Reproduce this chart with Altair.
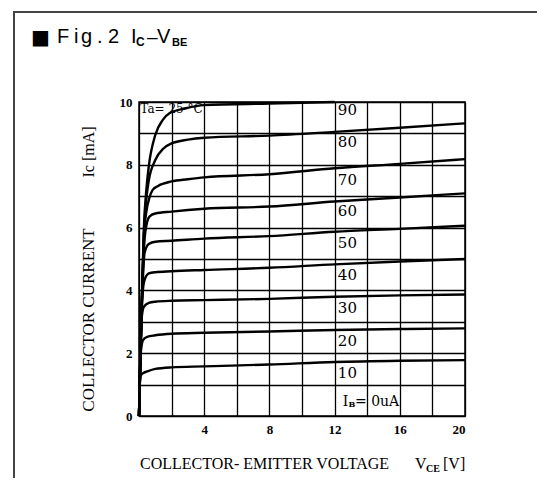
import altair as alt
import pandas as pd

# ---- data (VCE in V, IC in mA) ----
V10 = [0, 0.05, 0.1, 0.3, 0.5, 1, 2, 4, 8, 12, 16, 20]
I10 = [0, 1.0, 1.28, 1.38, 1.42, 1.5, 1.55, 1.58, 1.64, 1.72, 1.76, 1.78]
V20 = [0, 0.08, 0.15, 0.25, 0.5, 1, 2, 4, 8, 12, 16, 20]
I20 = [0, 1.8, 2.2, 2.42, 2.52, 2.57, 2.62, 2.65, 2.69, 2.74, 2.77, 2.79]
V30 = [0, 0.1, 0.18, 0.3, 0.6, 1, 2, 4, 8, 12, 16, 20]
I30 = [0, 2.2, 3.2, 3.48, 3.6, 3.64, 3.67, 3.69, 3.73, 3.80, 3.84, 3.87]
V40 = [0, 0.12, 0.22, 0.34, 0.6, 1, 2, 4, 8, 12, 16, 20]
I40 = [0, 2.6, 3.9, 4.33, 4.54, 4.58, 4.61, 4.65, 4.72, 4.83, 4.92, 5.0]
V50 = [0, 0.13, 0.25, 0.34, 0.6, 1, 2, 4, 8, 12, 16, 20]
I50 = [0, 2.8, 4.5, 5.19, 5.48, 5.55, 5.58, 5.65, 5.73, 5.87, 5.96, 6.06]
V60 = [0, 0.13, 0.27, 0.39, 0.64, 1, 2, 4, 8, 12, 16, 20]
I60 = [0, 2.9, 5.0, 5.87, 6.35, 6.45, 6.51, 6.6, 6.67, 6.83, 6.96, 7.09]
V70 = [0, 0.14, 0.3, 0.45, 0.64, 0.84, 1.15, 2, 3, 4, 8, 12, 16, 20]
I70 = [0, 3.0, 5.7, 6.5, 6.95, 7.2, 7.32, 7.47, 7.54, 7.6, 7.7, 7.89, 8.03, 8.18]
V80 = [0, 0.14, 0.3, 0.45, 0.6, 1, 1.5, 2, 3, 4, 8, 12, 16, 20]
I80 = [0, 3.0, 5.8, 6.9, 7.5, 8.15, 8.52, 8.68, 8.8, 8.86, 8.93, 9.05, 9.18, 9.32]
V90 = [0, 0.14, 0.3, 0.45, 0.6, 1, 1.46, 1.87, 2.88, 4, 8, 12]
I90 = [0, 3.0, 6.0, 7.2, 7.95, 8.95, 9.43, 9.64, 9.8, 9.9, 9.95, 10.0]

CURVES = {10: (V10, I10), 20: (V20, I20), 30: (V30, I30), 40: (V40, I40),
          50: (V50, I50), 60: (V60, I60), 70: (V70, I70), 80: (V80, I80),
          90: (V90, I90)}

LABEL_TEXT = ["90", "80", "70", "60", "50", "40", "30", "20", "10"]
LABEL_V = [12.2] * 9
LABEL_I = [9.75, 8.74, 7.52, 6.53, 5.5, 4.49, 3.43, 2.39, 1.36]

X_TICKS = list(range(0, 21, 2))
Y_TICKS = list(range(0, 11))

rows = []
for ib, (vs, cs) in CURVES.items():
    for v, c in zip(vs, cs):
        rows.append({"ib": ib, "v": v, "i": c})
df = pd.DataFrame(rows)
lab = pd.DataFrame({"t": LABEL_TEXT, "v": LABEL_V, "i": LABEL_I})

SERIF = "Liberation Serif"
SANS = "Liberation Sans"

xs = alt.Scale(domain=[0, 20], nice=False)
ys = alt.Scale(domain=[0, 10], nice=False)

X_AXIS = alt.Axis(values=X_TICKS, ticks=False, domain=False,
                  grid=True, gridColor="black", gridWidth=1.3, gridOpacity=1,
                  labelExpr="datum.value % 4 == 0 && datum.value > 0 ? datum.label : ''",
                  labelFont=SERIF, labelFontSize=13, labelFontWeight="bold",
                  labelColor="black", labelPadding=7)
Y_AXIS = alt.Axis(values=Y_TICKS, ticks=False, domain=False,
                  grid=True, gridColor="black", gridWidth=1.3, gridOpacity=1,
                  labelExpr="datum.value % 2 == 0 ? datum.label : ''",
                  labelFont=SERIF, labelFontSize=13, labelFontWeight="bold",
                  labelColor="black", labelPadding=7)


def xe():
    return alt.X("v:Q", scale=xs, title=None, axis=X_AXIS)


def ye():
    return alt.Y("i:Q", scale=ys, title=None, axis=Y_AXIS)


lines = alt.Chart(df).mark_line(color="black", strokeWidth=2.4,
                                interpolate="monotone").encode(
    x=xe(), y=ye(), detail="ib:N")

labels = alt.Chart(lab).mark_text(align="left", baseline="middle", font="DejaVu Serif",
                                  fontSize=15, color="black").encode(
    x=xe(), y=ye(), text="t:N")

ONE = alt.Data(values=[{}])


def txt_data(t, v, c, size=13, font="DejaVu Serif", weight="normal", baseline="middle"):
    return alt.Chart(alt.Data(values=[{"v": v, "i": c}])).mark_text(
        text=t, align="left", baseline=baseline, font=font, fontSize=size,
        fontWeight=weight, color="black").encode(x=xe(), y=ye())


def txt_px(t, px, py, size=13, font=SERIF, weight="normal", align="left",
           baseline="alphabetic", angle=0):
    return alt.Chart(ONE).mark_text(
        text=t, align=align, baseline=baseline, font=font, fontSize=size,
        fontWeight=weight, color="black", angle=angle).encode(
        x=alt.value(px), y=alt.value(py))


ta = txt_data("Ta= 25 \u00b0C", 0.08, 9.78, size=12)
ib_i = txt_data("I", 12.5, 0.46, size=14)
ib_b = txt_data("B", 12.85, 0.36, size=8, weight="bold")
ib_r = txt_data("= 0uA", 13.25, 0.46, size=14)

# figure title
title = [
    txt_px("\u25a0", -108, -58, size=20, font="DejaVu Sans"),
    txt_px("F", -82, -59, size=20, font=SANS),
    txt_px("i", -65, -59, size=20, font=SANS),
    txt_px("g", -58, -59, size=20, font=SANS),
    txt_px(".", -42, -59, size=20, font=SANS),
    txt_px("2", -31, -59, size=20, font=SANS),
    txt_px("I", -8, -59, size=20, font=SANS),
    txt_px("C", -3, -56, size=12, font=SANS, weight="bold"),
    txt_px("\u2013", 8, -59, size=19, font=SANS),
    txt_px("V", 18, -59, size=20, font=SANS),
    txt_px("BE", 33, -56, size=11, font=SANS, weight="bold"),
]

# axis titles
axis_titles = [
    txt_px("COLLECTOR CURRENT", -50, 218, size=17, align="center",
           baseline="middle", angle=270),
    txt_px("Ic [mA]", -50, 50, size=16, align="center", baseline="middle", angle=270),
    txt_px("COLLECTOR- EMITTER VOLTAGE", 1, 367, size=16),
    txt_px("V", 276, 367, size=16),
    txt_px("CE", 287, 370, size=10, weight="bold"),
    txt_px("[V]", 304, 367, size=16),
]

frame = [
    alt.Chart(ONE).mark_rule(color="#444444", strokeWidth=2).encode(
        x=alt.value(-125), y=alt.value(-90), y2=alt.value(400)),
    alt.Chart(ONE).mark_rule(color="#444444", strokeWidth=2).encode(
        x=alt.value(-126), x2=alt.value(420), y=alt.value(-90)),
]

chart = alt.layer(
    lines, labels, ta, ib_i, ib_b, ib_r, *title, *axis_titles, *frame
).properties(
    width=326, height=314,
    autosize=alt.AutoSizeParams(type="none"),
    padding={"left": 131, "top": 94, "right": 72, "bottom": 62},
    background="white",
).configure_view(stroke="black", strokeWidth=1.5)

chart.save("out.html", embed_options={"renderer": "svg", "actions": False})
